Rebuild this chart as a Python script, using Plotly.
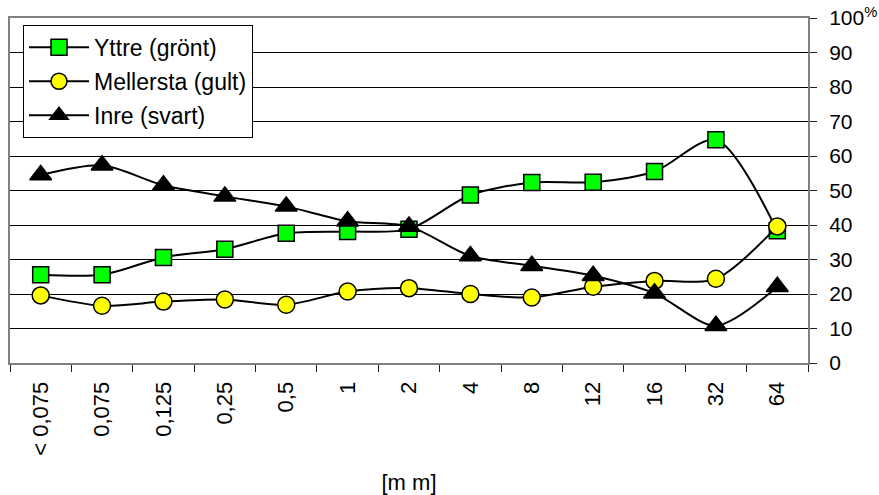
import plotly.graph_objects as go

# Fraction sizes [mm]
categories = ["< 0,075", "0,075", "0,125", "0,25", "0,5", "1", "2", "4", "8", "12", "16", "32", "64"]

# Share per size class [%]
yttre = [25.6, 25.6, 30.6, 33.0, 37.6, 38.1, 38.8, 48.7, 52.3, 52.4, 55.5, 64.7, 38.3]
mellersta = [19.6, 16.6, 17.8, 18.4, 16.9, 20.7, 21.7, 20.0, 19.0, 22.1, 23.8, 24.4, 39.6]
inre = [54.5, 57.3, 51.5, 48.3, 45.4, 41.1, 39.6, 31.0, 28.2, 25.3, 20.2, 10.8, 22.1]

y_ticks = list(range(0, 101, 10))
y_ticktext = [str(v) for v in y_ticks[:-1]] + ["100<sup>%</sup>"]

FONT = "Liberation Sans, Arial, sans-serif"

fig = go.Figure()

series = [
    ("Yttre (grönt)", yttre, "square", "#00FF00", 16),
    ("Mellersta (gult)", mellersta, "circle", "#FFFF00", 17),
    ("Inre (svart)", inre, "triangle-up", "#000000", 19),
]
for name, vals, symbol, color, size in series:
    fig.add_trace(go.Scatter(
        x=categories, y=vals, name=name, legendgroup=name, mode="lines+markers",
        line=dict(color="black", width=2, shape="spline", smoothing=0.8),
        marker=dict(symbol=symbol, size=size, color=color,
                    line=dict(color="black", width=1.5)),
    ))

fig.update_layout(
    width=879, height=495,
    margin=dict(l=10, r=71, t=18, b=132),
    paper_bgcolor="white", plot_bgcolor="white",
    font=dict(family=FONT, size=22, color="black"),
    showlegend=True,
    legend=dict(
        x=0.0163, y=0.98, xanchor="left", yanchor="top",
        bgcolor="white", bordercolor="black", borderwidth=1,
        font=dict(family=FONT, size=23, color="black"),
        traceorder="grouped", tracegroupgap=1, itemwidth=60,
    ),
    xaxis=dict(
        type="category", range=[-0.5, 12.5], automargin=False,
        tickson="boundaries", ticks="outside", ticklen=7, tickcolor="#202020",
        tickangle=-90, showgrid=False, ticklabelstandoff=8,
        showline=True, linecolor="#808080", linewidth=2, mirror=True,
        tickfont=dict(family=FONT, size=22),
        title=dict(text="[m m]", font=dict(family=FONT, size=22), standoff=27),
    ),
    yaxis=dict(
        side="right", range=[0, 100], tickvals=y_ticks, ticktext=y_ticktext,
        automargin=False,
        ticks="outside", ticklen=7, tickcolor="#202020",
        showgrid=True, gridcolor="black", gridwidth=1,
        showline=True, linecolor="#808080", linewidth=2, mirror=True,
        zeroline=False, ticklabelstandoff=8,
        tickfont=dict(family=FONT, size=21),
    ),
)

fig.write_html("out.html")
